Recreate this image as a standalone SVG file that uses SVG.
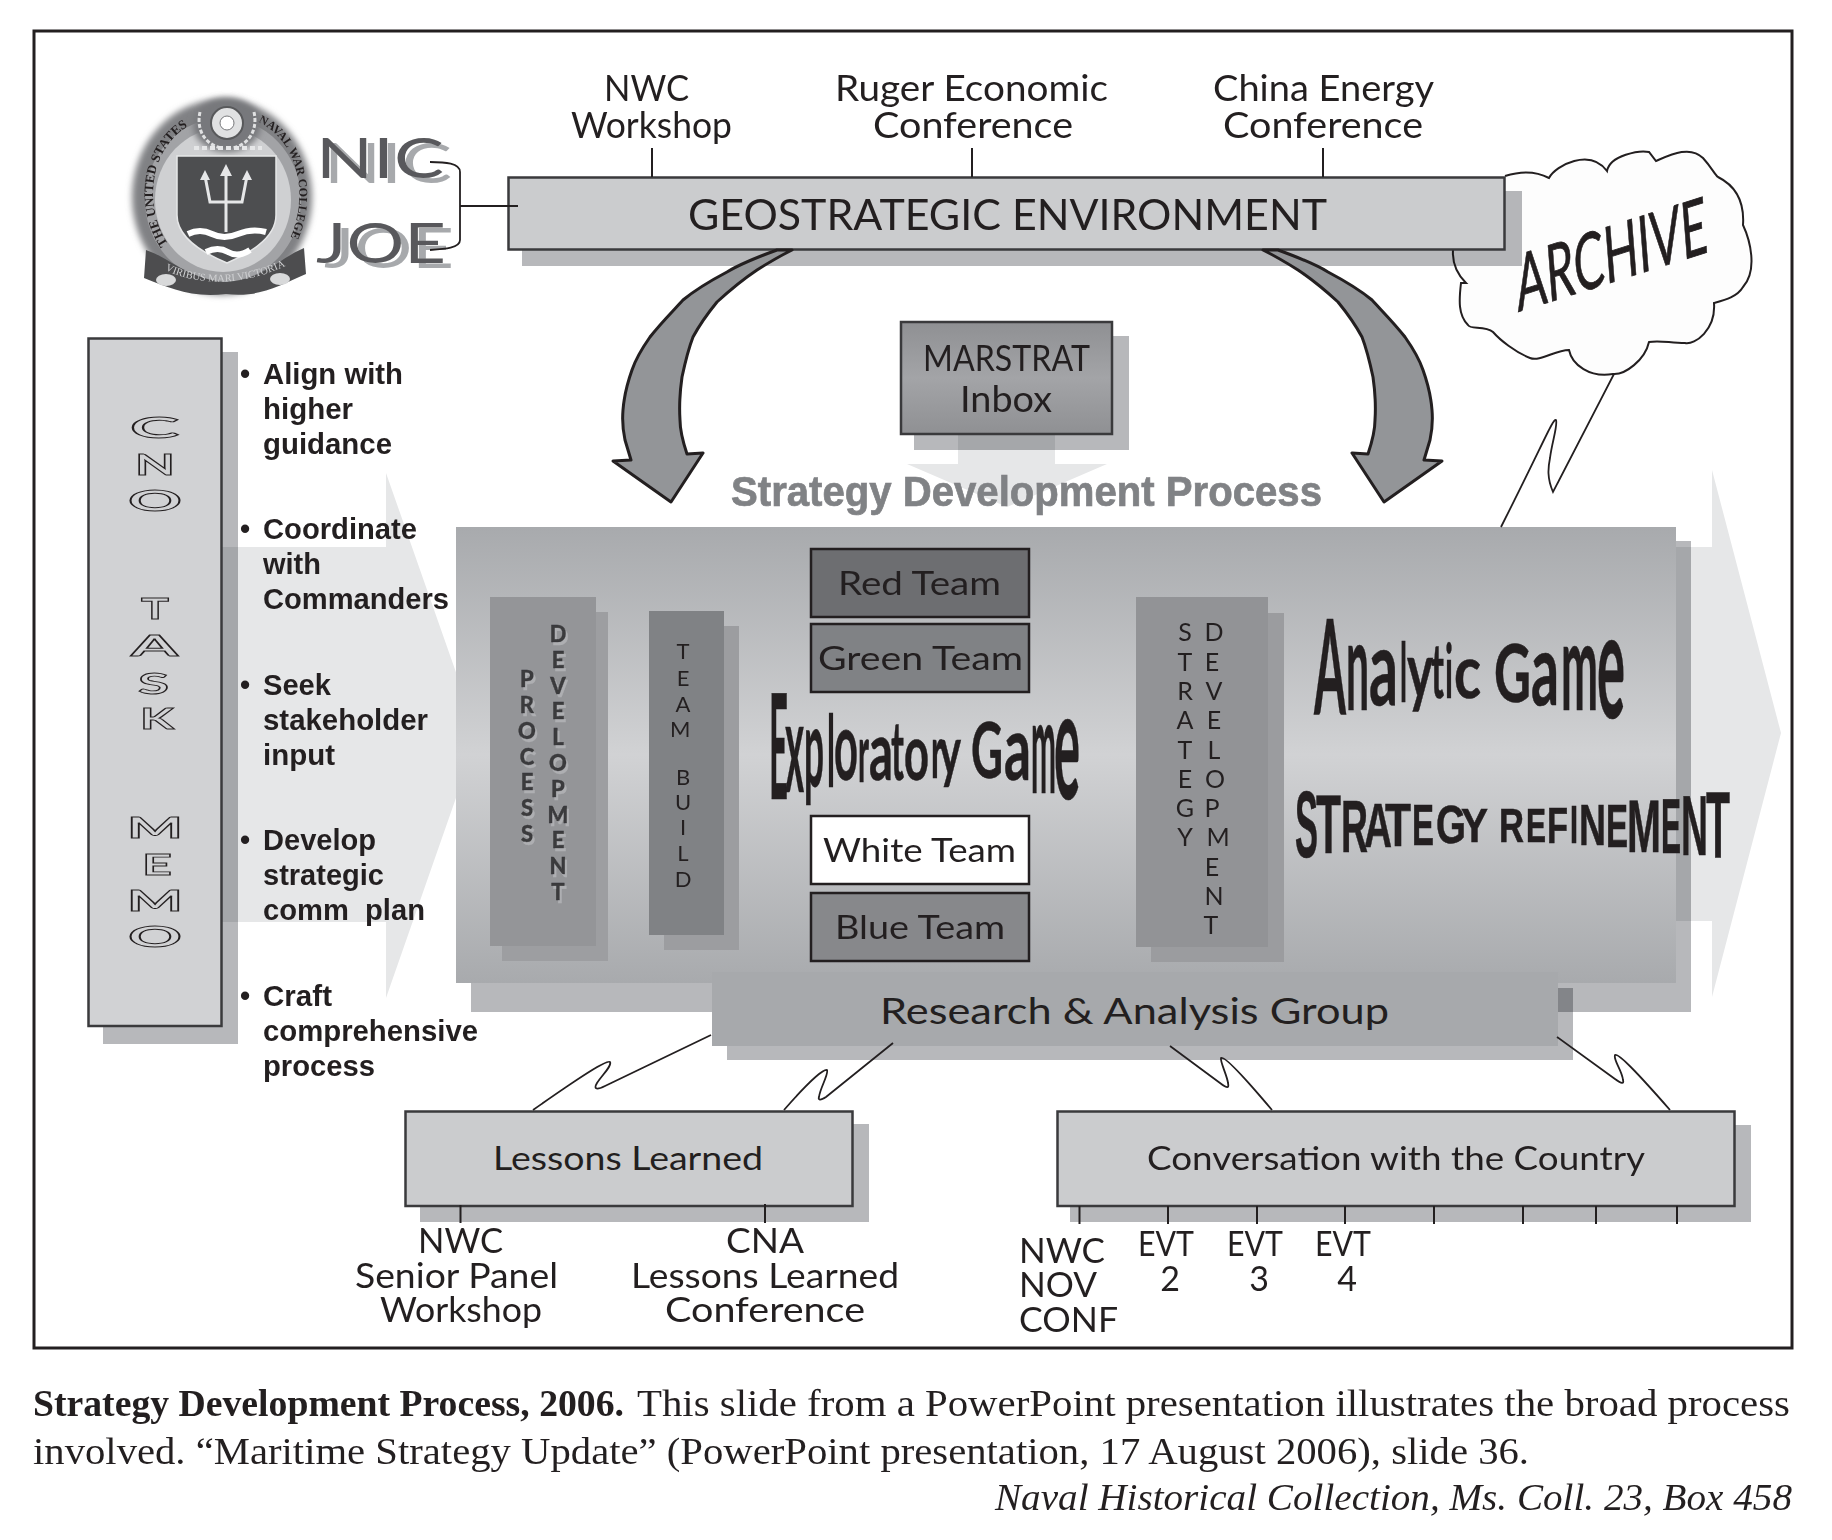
<svg xmlns="http://www.w3.org/2000/svg" width="1832" height="1540" viewBox="0 0 1832 1540">
<style>
text{font-family:Lato,"Open Sans","Liberation Sans",sans-serif;fill:#231f20}
.b{font-family:"Liberation Sans",Arial,sans-serif;font-weight:700;font-size:29px;white-space:pre}
.cap{font-family:"Liberation Serif","Times New Roman",serif;font-size:37px}
.box{fill:#cbccce;stroke:#3a3a3c;stroke-width:2.5}
.sh{fill:#b7b8bb;mix-blend-mode:multiply}
.team{stroke:#231f20;stroke-width:2.5}
.t33{font-size:33px}.t34{font-size:34px}.t36{font-size:36px}
.wire{fill:none;stroke:#231f20;stroke-width:1.8}
.tick{fill:none;stroke:#231f20;stroke-width:2}
.big{fill:#e6e7e8}
.memo{fill:none;stroke:#231f20;stroke-width:.9;font-size:28px;font-weight:700}
.arrow{fill:#939598;stroke:#231f20;stroke-width:3;stroke-linejoin:round}
.wa{font-weight:700;stroke:#231f20;stroke-width:.6}
.pd{font-size:22px;font-weight:900;text-anchor:middle;fill:#3a3a3c;stroke:#3a3a3c;stroke-width:.4}
</style>
<defs>
<linearGradient id="panel" x1="0" y1="0" x2="0" y2="1"><stop offset="0" stop-color="#a8aaad"/><stop offset=".5" stop-color="#d1d2d4"/><stop offset="1" stop-color="#a8aaad"/></linearGradient>
<linearGradient id="mar" x1="0" y1="0" x2="0" y2="1"><stop offset="0" stop-color="#8f9093"/><stop offset=".5" stop-color="#a3a4a7"/><stop offset="1" stop-color="#8f9093"/></linearGradient>
<filter id="blur" x="-20%" y="-20%" width="140%" height="140%"><feGaussianBlur stdDeviation="3"/></filter>
<filter id="blur1"><feGaussianBlur stdDeviation=".5"/></filter>
<filter id="ghost" x="-10%" y="-10%" width="125%" height="125%"><feOffset in="SourceAlpha" dx="8" dy="5" result="o"/><feFlood flood-color="#a7a9ac"/><feComposite in2="o" operator="in" result="c"/><feMerge><feMergeNode in="c"/><feMergeNode in="SourceGraphic"/></feMerge></filter>
<filter id="ds" x="-30%" y="-5%" width="170%" height="110%"><feOffset in="SourceAlpha" dx="1.5" dy="2.5" result="o"/><feFlood flood-color="#aeafb2"/><feComposite in2="o" operator="in" result="c"/><feMerge><feMergeNode in="c"/><feMergeNode in="SourceGraphic"/></feMerge></filter>
<path id="sealL" d="M168,244 C142,205 150,145 192,124"/>
<path id="sealR" d="M258,122 C302,142 310,205 286,246"/>
<path id="sealB" d="M158,266 C195,288 250,288 300,258"/>
</defs>
<rect width="1832" height="1540" fill="#fff"/>
<g id="frame"><rect x="34" y="31" width="1758" height="1317" fill="none" stroke="#231f20" stroke-width="3"/></g>
<g id="big-arrows">
<path class="big" d="M221,547H386V473L478,735L386,998V922H221Z"/>
<path class="big" d="M1650,547H1712V470L1781,733L1712,997V921H1650Z"/>
<path class="big" d="M958,434H1055V464H1107L1007,507L907,464H958Z"/>
</g>
<g id="archive">
<path d="M1505,176Q1530,168 1549,178C1556,165 1590,148 1607,171C1610,155 1640,150 1649,152L1656,161C1670,155 1690,145 1703,158C1712,168 1715,175 1718,177C1730,183 1745,195 1743,225C1750,240 1758,270 1743,287C1737,297 1725,300 1714,303C1716,330 1695,345 1685,343C1670,343 1660,340 1649,342C1645,360 1625,375 1613,374C1590,378 1572,365 1569,350C1555,350 1540,362 1530,358C1515,352 1500,340 1493,332C1485,325 1470,330 1468,325C1458,315 1459,300 1461,283L1466,283C1458,275 1452,265 1453,250" fill="#fdfdfd" stroke="#231f20" stroke-width="2"/>
<text transform="translate(1518,312) rotate(-17.5) skewX(-13)" font-size="76" textLength="200" lengthAdjust="spacingAndGlyphs" style="stroke:#231f20;stroke-width:.8">ARCHIVE</text>
</g>
<g id="geostrategic">
<rect class="sh" x="522" y="191" width="1000" height="75"/>
<rect class="box" x="508.500" y="177.500" width="996" height="72"/>
<text x="688" y="230" font-size="43" textLength="639" lengthAdjust="spacingAndGlyphs">GEOSTRATEGIC ENVIRONMENT</text>
</g>
<g id="top-labels">
<text class="t36" x="604" y="101" textLength="85" lengthAdjust="spacingAndGlyphs">NWC</text>
<text class="t36" x="571" y="138" textLength="161" lengthAdjust="spacingAndGlyphs">Workshop</text>
<text class="t36" x="835" y="101" textLength="273" lengthAdjust="spacingAndGlyphs">Ruger Economic</text>
<text class="t36" x="873" y="138" textLength="200" lengthAdjust="spacingAndGlyphs">Conference</text>
<text class="t36" x="1213" y="101" textLength="221" lengthAdjust="spacingAndGlyphs">China Energy</text>
<text class="t36" x="1223" y="138" textLength="200" lengthAdjust="spacingAndGlyphs">Conference</text>
</g>
<g id="seal">
<ellipse cx="222" cy="197" rx="90" ry="98" fill="#808184" filter="url(#blur)"/>
<ellipse cx="223" cy="200" rx="78" ry="82" fill="#a2a3a6"/>
<ellipse cx="223" cy="200" rx="68" ry="72" fill="#cfd0d2" filter="url(#blur1)"/>
<text font-size="13" font-weight="700" style="font-family:'Liberation Serif',serif"><textPath href="#sealL">THE UNITED STATES</textPath></text>
<text font-size="12" font-weight="700" style="font-family:'Liberation Serif',serif"><textPath href="#sealR">NAVAL WAR COLLEGE</textPath></text>
<ellipse cx="227" cy="125" rx="34" ry="27" fill="#77787b" filter="url(#blur)"/>
<path d="M200,112C196,130 205,145 222,148M254,112C258,130 249,145 232,148" fill="none" stroke="#e0e1e2" stroke-width="3" stroke-dasharray="4 2"/>
<circle cx="227" cy="123" r="16" fill="#e0e1e2" stroke="#58595b" stroke-width="2"/>
<circle cx="227" cy="123" r="7" fill="#fff" stroke="#77787b"/>
<path d="M194,148H262" stroke="#e6e7e8" stroke-width="4" stroke-dasharray="5 3"/>
<path d="M177,156H276V215C276,240 245,255 227,263C208,255 177,240 177,215Z" fill="#4d4e50" stroke="#e6e7e8" stroke-width="1.500"/>
<path d="M226,170V232M205,176L210,202H242L247,176" fill="none" stroke="#e6e7e8" stroke-width="3"/>
<path d="M226,164L220,176H232ZM205,170L200,180H210ZM247,170L242,180H252Z" fill="#e6e7e8"/>
<path d="M188,234Q200,228 212,234T238,234T266,232" fill="none" stroke="#fff" stroke-width="6"/>
<path d="M206,252Q218,246 228,252T250,250" fill="none" stroke="#fff" stroke-width="6"/>
<path d="M146,250C170,258 190,280 226,282C262,280 280,258 304,248L306,274C280,285 260,298 226,294C190,298 170,288 144,278Z" fill="#4d4e50" filter="url(#blur1)"/>
<ellipse cx="166" cy="280" rx="10" ry="6" fill="#d8d9da"/><ellipse cx="280" cy="279" rx="10" ry="6" fill="#d8d9da"/>
<text font-size="10.500" style="font-family:'Liberation Serif',serif;fill:#cfd0d2"><textPath href="#sealB" startOffset="8">VIRIBUS MARI VICTORIA</textPath></text>
</g>
<g id="nic-joe">
<text x="316" y="178" font-size="57" font-weight="400" textLength="128" lengthAdjust="spacingAndGlyphs" filter="url(#ghost)" style="fill:#58595b">NIC</text>
<text x="316" y="263" font-size="57" font-weight="400" textLength="130" lengthAdjust="spacingAndGlyphs" filter="url(#ghost)" style="fill:#58595b">JOE</text>
</g>
<g id="cno">
<rect class="sh" x="103" y="352" width="135" height="692"/>
<rect class="box" x="88.500" y="338.500" width="133" height="687.500" style="fill:#d1d2d4"/>
<text class="memo" x="130" y="438" textLength="49" lengthAdjust="spacingAndGlyphs">C</text>
<text class="memo" x="135" y="475" textLength="40" lengthAdjust="spacingAndGlyphs">N</text>
<text class="memo" x="128" y="511" textLength="54" lengthAdjust="spacingAndGlyphs">O</text>
<text class="memo" x="141" y="619" textLength="28" lengthAdjust="spacingAndGlyphs">T</text>
<text class="memo" x="131" y="656" textLength="47" lengthAdjust="spacingAndGlyphs">A</text>
<text class="memo" x="138" y="694" textLength="31" lengthAdjust="spacingAndGlyphs">S</text>
<text class="memo" x="140" y="729" textLength="34" lengthAdjust="spacingAndGlyphs">K</text>
<text class="memo" x="127" y="838" textLength="56" lengthAdjust="spacingAndGlyphs">M</text>
<text class="memo" x="142" y="875" textLength="30" lengthAdjust="spacingAndGlyphs">E</text>
<text class="memo" x="127" y="911" textLength="56" lengthAdjust="spacingAndGlyphs">M</text>
<text class="memo" x="128" y="947" textLength="54" lengthAdjust="spacingAndGlyphs">O</text>
</g>
<g id="bullets">
<text class="b"><tspan x="240" y="384">•</tspan><tspan x="263" y="384" textLength="140" lengthAdjust="spacingAndGlyphs">Align with</tspan> <tspan x="263" y="419" textLength="90" lengthAdjust="spacingAndGlyphs">higher</tspan> <tspan x="263" y="454" textLength="129" lengthAdjust="spacingAndGlyphs">guidance</tspan></text>
<text class="b"><tspan x="240" y="539">•</tspan><tspan x="263" y="539" textLength="154" lengthAdjust="spacingAndGlyphs">Coordinate</tspan> <tspan x="263" y="574" textLength="58" lengthAdjust="spacingAndGlyphs">with</tspan> <tspan x="263" y="609" textLength="186" lengthAdjust="spacingAndGlyphs">Commanders</tspan></text>
<text class="b"><tspan x="240" y="695">•</tspan><tspan x="263" y="695" textLength="68" lengthAdjust="spacingAndGlyphs">Seek</tspan> <tspan x="263" y="730" textLength="165" lengthAdjust="spacingAndGlyphs">stakeholder</tspan> <tspan x="263" y="765" textLength="72" lengthAdjust="spacingAndGlyphs">input</tspan></text>
<text class="b"><tspan x="240" y="850">•</tspan><tspan x="263" y="850" textLength="113" lengthAdjust="spacingAndGlyphs">Develop</tspan> <tspan x="263" y="885" textLength="121" lengthAdjust="spacingAndGlyphs">strategic</tspan> <tspan x="263" y="920" textLength="162" lengthAdjust="spacingAndGlyphs">comm  plan</tspan></text>
<text class="b"><tspan x="240" y="1006">•</tspan><tspan x="263" y="1006" textLength="69" lengthAdjust="spacingAndGlyphs">Craft</tspan> <tspan x="263" y="1041" textLength="215" lengthAdjust="spacingAndGlyphs">comprehensive</tspan> <tspan x="263" y="1076" textLength="112" lengthAdjust="spacingAndGlyphs">process</tspan></text>
</g>
<g id="marstrat">
<rect class="sh" x="914" y="336" width="215" height="114"/>
<rect x="901" y="322" width="211" height="112" fill="url(#mar)" stroke="#3a3a3c" stroke-width="2.5"/>
<text x="923" y="371" font-size="36" textLength="167" lengthAdjust="spacingAndGlyphs">MARSTRAT</text>
<text x="960" y="412" font-size="36" textLength="92" lengthAdjust="spacingAndGlyphs">Inbox</text>
</g>
<g id="process-title"><text x="731" y="506" font-size="42" textLength="591" lengthAdjust="spacingAndGlyphs" style="font-family:'Liberation Sans',sans-serif;font-weight:700;fill:#808285;stroke:#808285;stroke-width:.7">Strategy Development Process</text></g>
<g id="panel-node">
<rect class="sh" x="471" y="541" width="1220" height="471"/>
<rect x="456" y="527" width="1220" height="456" fill="url(#panel)"/>
</g>
<g id="process-dev">
<rect x="502" y="612" width="106" height="349" fill="#9d9ea1"/>
<rect x="490" y="597" width="106" height="349" fill="#949598"/>
<text class="pd" filter="url(#ds)"><tspan x="527" y="687">P</tspan><tspan x="527" y="713">R</tspan><tspan x="527" y="739">O</tspan><tspan x="527" y="765">C</tspan><tspan x="527" y="790">E</tspan><tspan x="527" y="816">S</tspan><tspan x="527" y="842">S</tspan></text>
<text class="pd" filter="url(#ds)"><tspan x="558" y="642">D</tspan><tspan x="558" y="668">E</tspan><tspan x="558" y="694">V</tspan><tspan x="558" y="719">E</tspan><tspan x="558" y="745">L</tspan><tspan x="558" y="771">O</tspan><tspan x="558" y="797">P</tspan><tspan x="558" y="823">M</tspan><tspan x="558" y="848">E</tspan><tspan x="558" y="874">N</tspan><tspan x="558" y="900">T</tspan></text>
</g>
<g id="team-build">
<rect x="664" y="626" width="75" height="324" fill="#9c9da0"/>
<rect x="649" y="611" width="75" height="324" fill="#808285"/>
<text font-size="22" text-anchor="middle"><tspan x="683" y="659">T</tspan><tspan x="683" y="686">E</tspan><tspan x="683" y="712">A</tspan><tspan x="683" y="737">M</tspan> <tspan x="683" y="785">B</tspan><tspan x="683" y="810">U</tspan><tspan x="683" y="835">I</tspan><tspan x="683" y="861">L</tspan><tspan x="683" y="887">D</tspan></text>
</g>
<g id="red-team"><rect class="team" x="811" y="549" width="218" height="68" fill="#6d6e71"/><text x="838" y="595" class="t33" textLength="163" lengthAdjust="spacingAndGlyphs">Red Team</text></g>
<g id="green-team"><rect class="team" x="811" y="624" width="218" height="68" fill="#808285"/><text x="818" y="670" class="t33" textLength="205" lengthAdjust="spacingAndGlyphs">Green Team</text></g>
<g id="white-team"><rect class="team" x="811" y="816" width="218" height="68" fill="#fff"/><text x="823" y="862" class="t33" textLength="193" lengthAdjust="spacingAndGlyphs">White Team</text></g>
<g id="blue-team"><rect class="team" x="811" y="893" width="218" height="68" fill="#87888b"/><text x="835" y="939" class="t33" textLength="170" lengthAdjust="spacingAndGlyphs">Blue Team</text></g>
<g id="exploratory"><text class="wa"><tspan x="769" y="799" font-size="145" textLength="19" lengthAdjust="spacingAndGlyphs">E</tspan><tspan x="785" y="792" font-size="126" textLength="19" lengthAdjust="spacingAndGlyphs">x</tspan><tspan x="804" y="787" font-size="109" textLength="20" lengthAdjust="spacingAndGlyphs">p</tspan><tspan x="827" y="787" font-size="100" textLength="8" lengthAdjust="spacingAndGlyphs">l</tspan><tspan x="834" y="780" font-size="95" textLength="24" lengthAdjust="spacingAndGlyphs">o</tspan><tspan x="858" y="782" font-size="83" textLength="11" lengthAdjust="spacingAndGlyphs">r</tspan><tspan x="869" y="780" font-size="83" textLength="24" lengthAdjust="spacingAndGlyphs">a</tspan><tspan x="891" y="780" font-size="82" textLength="13" lengthAdjust="spacingAndGlyphs">t</tspan><tspan x="904" y="780" font-size="79" textLength="25" lengthAdjust="spacingAndGlyphs">o</tspan><tspan x="931" y="778" font-size="75" textLength="12" lengthAdjust="spacingAndGlyphs">r</tspan><tspan x="939" y="775" font-size="69" textLength="22" lengthAdjust="spacingAndGlyphs">y</tspan> <tspan x="971" y="778" font-size="77" textLength="32" lengthAdjust="spacingAndGlyphs">G</tspan><tspan x="1004" y="780" font-size="89" textLength="27" lengthAdjust="spacingAndGlyphs">a</tspan><tspan x="1031" y="793" font-size="130" textLength="25" lengthAdjust="spacingAndGlyphs">m</tspan><tspan x="1054" y="799" font-size="154" textLength="26" lengthAdjust="spacingAndGlyphs">e</tspan></text></g>
<g id="strategy-dev">
<rect x="1151" y="613" width="133" height="349" fill="#9b9c9f"/>
<rect x="1136" y="597" width="132" height="350" fill="#929396"/>
<text font-size="25" text-anchor="middle"><tspan x="1185" y="641">S</tspan><tspan x="1185" y="671">T</tspan><tspan x="1185" y="700">R</tspan><tspan x="1185" y="729">A</tspan><tspan x="1185" y="759">T</tspan><tspan x="1185" y="788">E</tspan><tspan x="1185" y="817">G</tspan><tspan x="1185" y="846">Y</tspan></text>
<text font-size="25" text-anchor="middle"><tspan x="1214" y="641">D</tspan><tspan x="1212" y="671">E</tspan><tspan x="1214" y="700">V</tspan><tspan x="1214" y="729">E</tspan><tspan x="1214" y="759">L</tspan><tspan x="1215" y="788">O</tspan><tspan x="1212" y="817">P</tspan><tspan x="1218" y="846">M</tspan><tspan x="1212" y="876">E</tspan><tspan x="1214" y="905">N</tspan><tspan x="1211" y="934">T</tspan></text>
</g>
<g id="analytic"><text class="wa"><tspan x="1314" y="715" font-size="132" textLength="32" lengthAdjust="spacingAndGlyphs">A</tspan><tspan x="1346" y="710" font-size="124" textLength="23" lengthAdjust="spacingAndGlyphs">n</tspan><tspan x="1369" y="705" font-size="105" textLength="29" lengthAdjust="spacingAndGlyphs">a</tspan><tspan x="1400" y="702" font-size="82" textLength="7" lengthAdjust="spacingAndGlyphs">l</tspan><tspan x="1407" y="698" font-size="79" textLength="26" lengthAdjust="spacingAndGlyphs">y</tspan><tspan x="1431" y="698" font-size="77" textLength="13" lengthAdjust="spacingAndGlyphs">t</tspan><tspan x="1445" y="698" font-size="74" textLength="8" lengthAdjust="spacingAndGlyphs">i</tspan><tspan x="1454" y="698" font-size="75" textLength="27" lengthAdjust="spacingAndGlyphs">c</tspan> <tspan x="1494" y="702" font-size="80" textLength="37" lengthAdjust="spacingAndGlyphs">G</tspan><tspan x="1531" y="705" font-size="99" textLength="28" lengthAdjust="spacingAndGlyphs">a</tspan><tspan x="1561" y="710" font-size="122" textLength="37" lengthAdjust="spacingAndGlyphs">m</tspan><tspan x="1597" y="718" font-size="150" textLength="28" lengthAdjust="spacingAndGlyphs">e</tspan></text></g>
<g id="refinement"><text class="wa" style="font-family:'Liberation Sans',sans-serif"><tspan x="1295" y="857" font-size="94" textLength="23" lengthAdjust="spacingAndGlyphs">S</tspan><tspan x="1316" y="853" font-size="83" textLength="25" lengthAdjust="spacingAndGlyphs">T</tspan><tspan x="1341" y="852" font-size="75" textLength="27" lengthAdjust="spacingAndGlyphs">R</tspan><tspan x="1364" y="847" font-size="63" textLength="28" lengthAdjust="spacingAndGlyphs">A</tspan><tspan x="1385" y="846" font-size="61" textLength="26" lengthAdjust="spacingAndGlyphs">T</tspan><tspan x="1412" y="845" font-size="58" textLength="22" lengthAdjust="spacingAndGlyphs">E</tspan><tspan x="1436" y="843" font-size="53" textLength="30" lengthAdjust="spacingAndGlyphs">G</tspan><tspan x="1461" y="842" font-size="49" textLength="27" lengthAdjust="spacingAndGlyphs">Y</tspan> <tspan x="1499" y="842" font-size="49" textLength="25" lengthAdjust="spacingAndGlyphs">R</tspan><tspan x="1526" y="842" font-size="49" textLength="20" lengthAdjust="spacingAndGlyphs">E</tspan><tspan x="1547" y="843" font-size="50" textLength="21" lengthAdjust="spacingAndGlyphs">F</tspan><tspan x="1570" y="843" font-size="53" textLength="8" lengthAdjust="spacingAndGlyphs">I</tspan><tspan x="1579" y="845" font-size="58" textLength="27" lengthAdjust="spacingAndGlyphs">N</tspan><tspan x="1606" y="847" font-size="61" textLength="22" lengthAdjust="spacingAndGlyphs">E</tspan><tspan x="1627" y="852" font-size="75" textLength="34" lengthAdjust="spacingAndGlyphs">M</tspan><tspan x="1661" y="853" font-size="78" textLength="20" lengthAdjust="spacingAndGlyphs">E</tspan><tspan x="1681" y="855" font-size="86" textLength="27" lengthAdjust="spacingAndGlyphs">N</tspan><tspan x="1706" y="858" font-size="94" textLength="24" lengthAdjust="spacingAndGlyphs">T</tspan></text></g>
<g id="research">
<rect class="sh" x="727" y="988" width="846" height="72"/>
<rect x="712" y="972" width="846" height="74" fill="#a7a9ac"/>
<text x="880" y="1024" font-size="37" textLength="509" lengthAdjust="spacingAndGlyphs">Research &amp; Analysis Group</text>
</g>
<g id="lessons">
<rect class="sh" x="420" y="1124" width="449" height="98"/>
<rect class="box" x="405.500" y="1111.500" width="447" height="94.500"/>
<text x="493" y="1170" class="t33" textLength="270" lengthAdjust="spacingAndGlyphs">Lessons Learned</text>
</g>
<g id="conversation">
<rect class="sh" x="1070" y="1125" width="681" height="97"/>
<rect class="box" x="1057.500" y="1111.500" width="677" height="94.500"/>
<text x="1147" y="1170" class="t33" textLength="498" lengthAdjust="spacingAndGlyphs">Conversation with the Country</text>
</g>
<g id="bottom-labels">
<text x="418" y="1253" class="t34" textLength="85" lengthAdjust="spacingAndGlyphs">NWC</text>
<text x="355" y="1288" class="t34" textLength="203" lengthAdjust="spacingAndGlyphs">Senior Panel</text>
<text x="380" y="1322" class="t34" textLength="162" lengthAdjust="spacingAndGlyphs">Workshop</text>
<text x="726" y="1253" class="t34" textLength="78" lengthAdjust="spacingAndGlyphs">CNA</text>
<text x="631" y="1288" class="t34" textLength="268" lengthAdjust="spacingAndGlyphs">Lessons Learned</text>
<text x="665" y="1322" class="t34" textLength="200" lengthAdjust="spacingAndGlyphs">Conference</text>
<text x="1019" y="1263" class="t34" textLength="86" lengthAdjust="spacingAndGlyphs">NWC</text>
<text x="1019" y="1297" class="t34" textLength="78" lengthAdjust="spacingAndGlyphs">NOV</text>
<text x="1019" y="1332" class="t34" textLength="99" lengthAdjust="spacingAndGlyphs">CONF</text>
<text x="1138" y="1256" class="t34" textLength="56" lengthAdjust="spacingAndGlyphs">EVT</text>
<text x="1170" y="1291" class="t34" text-anchor="middle">2</text>
<text x="1227" y="1256" class="t34" textLength="56" lengthAdjust="spacingAndGlyphs">EVT</text>
<text x="1259" y="1291" class="t34" text-anchor="middle">3</text>
<text x="1315" y="1256" class="t34" textLength="56" lengthAdjust="spacingAndGlyphs">EVT</text>
<text x="1347" y="1291" class="t34" text-anchor="middle">4</text>
</g>
<g id="connectors">
<path class="arrow" d="M777,250C755,258 740,264 727,272C710,281 695,290 683,300C672,312 660,324 650,337C643,347 636,358 632,370C627,384 624,397 623,410C622,422 623,431 625,440L631,460L613,461L671,502L703,453L687,454C683,442 680,432 680,420C679,405 680,391 682,377C685,363 688,350 693,337C700,324 708,313 717,302C729,291 742,280 757,270C768,263 780,256 792,250Z"/>
<path class="arrow" d="M1278,250C1300,258 1315,264 1328,272C1345,281 1360,290 1372,300C1383,312 1395,324 1405,337C1412,347 1419,358 1423,370C1428,384 1431,397 1432,410C1433,422 1432,431 1430,440L1424,460L1442,461L1384,502L1352,453L1368,454C1372,442 1375,432 1375,420C1376,405 1375,391 1373,377C1370,363 1367,350 1362,337C1355,324 1347,313 1338,302C1326,291 1313,280 1298,270C1287,263 1275,256 1263,250Z"/>
<path class="tick" d="M652,148V177M972,148V177M1323,148V177"/>
<path class="wire" d="M430,162C445,162 460,163 460,172V240C460,248 445,249 430,250M460,206H518"/>
<path class="wire" d="M1614,374L1553,492C1547,478 1548,468 1550,458C1552,442 1558,425 1556,420C1553,418 1545,440 1501,527"/>
<path class="wire" d="M711,1035L605,1086C595,1091 594,1088 597,1083C603,1074 612,1066 610,1062C607,1060 590,1070 533,1110"/>
<path class="wire" d="M893,1043L826,1097C820,1101 818,1100 819,1097C820,1088 829,1074 827,1070C824,1069 812,1078 784,1110"/>
<path class="wire" d="M1170,1046L1220,1083C1228,1089 1229,1088 1228,1083C1227,1075 1220,1062 1221,1058C1224,1056 1240,1072 1272,1110"/>
<path class="wire" d="M1557,1037L1615,1079C1622,1084 1624,1084 1623,1080C1622,1070 1613,1060 1615,1055C1618,1053 1635,1070 1670,1110"/>
<path class="tick" d="M460.500,1205V1223M765,1204V1223M1079.500,1206V1224M1168,1206V1224M1257,1206V1224M1345,1206V1224M1434,1206V1224M1523,1206V1224M1596,1206V1224M1677,1206V1224"/>
</g>
<g id="caption">
<text class="cap"><tspan x="33" y="1416" font-weight="700" textLength="591" lengthAdjust="spacingAndGlyphs">Strategy Development Process, 2006.</tspan> <tspan x="637" y="1416" textLength="1153" lengthAdjust="spacingAndGlyphs">This slide from a PowerPoint presentation illustrates the broad process</tspan></text>
<text class="cap" x="33" y="1464" textLength="1496" lengthAdjust="spacingAndGlyphs">involved. “Maritime Strategy Update” (PowerPoint presentation, 17 August 2006), slide 36.</text>
<text class="cap" x="995" y="1510" font-style="italic" textLength="797" lengthAdjust="spacingAndGlyphs">Naval Historical Collection, Ms. Coll. 23, Box 458</text>
</g>
</svg>
